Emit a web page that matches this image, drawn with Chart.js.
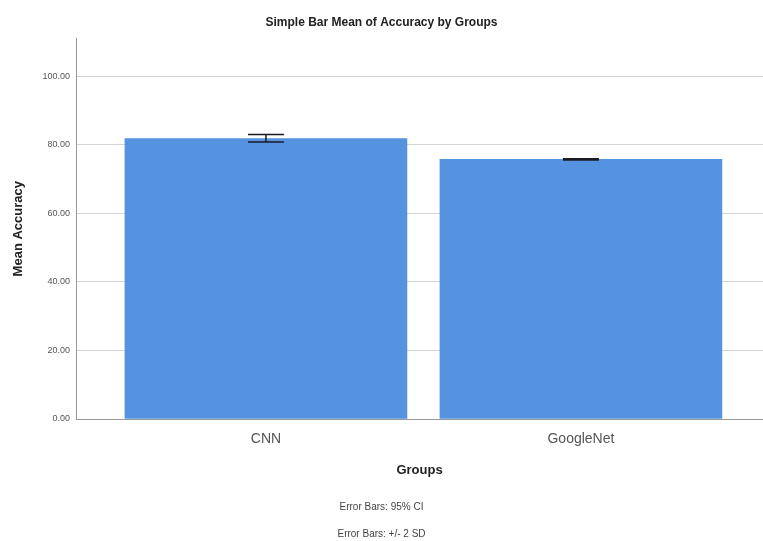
<!DOCTYPE html>
<html>
<head>
<meta charset="utf-8">
<script src="https://cdn.jsdelivr.net/npm/chart.js@4"></script>
<style>
  html, body { margin: 0; padding: 0; background: #fff; }
  #wrap { width: 763px; height: 541px; }
</style>
</head>
<body>
<div id="wrap"><canvas id="chart"></canvas></div>
<script>
const groups = ['CNN', 'GoogleNet'];
const meanAccuracy = [81.8, 75.7];
const errLow = [80.8, 75.5];
const errHigh = [83.0, 75.9];
const yTicks = [0, 20, 40, 60, 80, 100];

// error bars drawn on top of the bars
const errorBars = {
  id: 'errorBars',
  afterDatasetsDraw(chart) {
    const ctx = chart.ctx;
    const meta = chart.getDatasetMeta(0);
    const y = chart.scales.y;
    ctx.save();
    ctx.strokeStyle = '#1b1b24';
    ctx.lineWidth = 1.5;
    meta.data.forEach((bar, i) => {
      const top = y.getPixelForValue(errHigh[i]);
      const bot = y.getPixelForValue(errLow[i]);
      ctx.beginPath();
      ctx.moveTo(bar.x, top);
      ctx.lineTo(bar.x, bot);
      ctx.moveTo(bar.x - 18, top);
      ctx.lineTo(bar.x + 18, top);
      ctx.moveTo(bar.x - 18, bot);
      ctx.lineTo(bar.x + 18, bot);
      ctx.stroke();
    });
    ctx.restore();
  }
};

new Chart(document.getElementById('chart'), {
  type: 'bar',
  data: {
    datasets: [{
      label: 'Mean Accuracy',
      data: groups.map((g, i) => ({ x: i + 1, y: meanAccuracy[i] })),
      backgroundColor: '#5593e0',
      borderWidth: 0,
      barThickness: 282
    }]
  },
  options: {
    responsive: true,
    maintainAspectRatio: false,
    animation: false,
    layout: { padding: 0 },
    plugins: {
      legend: { display: false },
      tooltip: { enabled: false },
      title: {
        display: true,
        text: 'Simple Bar Mean of Accuracy by Groups',
        color: '#222',
        font: { family: 'Liberation Sans, Arial, sans-serif', size: 12, weight: 'bold' },
        padding: { top: 15, bottom: 9 }
      },
      subtitle: {
        display: true,
        position: 'bottom',
        text: ['Error Bars: 95% CI', 'Error Bars: +/- 2 SD'],
        color: '#444',
        font: { family: 'Liberation Sans, Arial, sans-serif', size: 10, lineHeight: 2.7 },
        padding: { top: 7, bottom: -7 }
      }
    },
    scales: {
      x: {
        type: 'linear',
        min: 0.397,
        max: 2.578,
        offset: false,
        afterBuildTicks: (s) => { s.ticks = groups.map((g, i) => ({ value: i + 1 })); },
        afterFit: (s) => { s.height = 68; },
        ticks: {
          callback: (v) => groups[v - 1],
          color: '#555',
          font: { family: 'Liberation Sans, Arial, sans-serif', size: 14 },
          padding: 4
        },
        grid: { display: false, offset: false },
        border: { display: true, color: '#999', width: 1 },
        title: {
          display: true,
          text: 'Groups',
          color: '#222',
          font: { family: 'Liberation Sans, Arial, sans-serif', size: 13, weight: 'bold' },
          padding: { top: 10, bottom: 9 }
        }
      },
      y: {
        min: 0,
        max: 111,
        afterBuildTicks: (s) => { s.ticks = yTicks.map(v => ({ value: v })); },
        afterFit: (s) => { s.width = 76; },
        ticks: {
          callback: (v) => v.toFixed(2),
          color: '#555',
          font: { family: 'Liberation Sans, Arial, sans-serif', size: 9 },
          padding: 6
        },
        grid: { color: '#d4d4d4', drawTicks: false },
        border: { display: true, color: '#999', width: 1 },
        title: {
          display: true,
          text: 'Mean Accuracy',
          color: '#222',
          font: { family: 'Liberation Sans, Arial, sans-serif', size: 13, weight: 'bold' },
          padding: { top: 11, bottom: 0 }
        }
      }
    }
  },
  plugins: [errorBars]
});
</script>
</body>
</html>
